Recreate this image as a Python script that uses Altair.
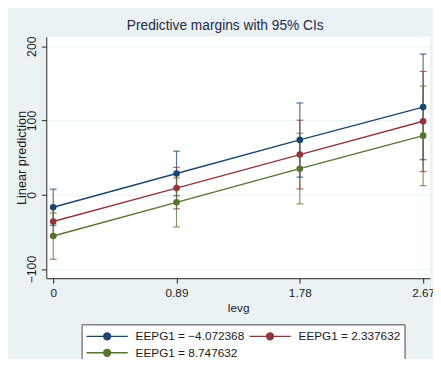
import altair as alt
import pandas as pd

levg = [0, 0.89, 1.78, 2.67]
groups = ["EEPG1 = \u22124.072368", "EEPG1 = 2.337632", "EEPG1 = 8.747632"]
colors = ["#1a476f", "#90353b", "#55752f"]

margin_1 = [-16.8, 28.7, 73.9, 118.0]
lower_1 = [-41.1, -1.3, 23.8, 47.2]
upper_1 = [7.5, 58.7, 123.6, 189.4]

margin_2 = [-36.0, 9.0, 54.1, 99.0]
lower_2 = [-56.0, -19.0, 7.9, 31.1]
upper_2 = [-16.0, 37.0, 100.4, 166.0]

margin_3 = [-55.5, -10.2, 35.1, 79.6]
lower_3 = [-86.8, -43.2, -12.3, 12.3]
upper_3 = [-24.5, 22.8, 82.9, 146.3]

y_ticks = [-100, 0, 100, 200]

rows = []
for gi, (g, m, lo, hi) in enumerate(zip(groups,
                                        [margin_1, margin_2, margin_3],
                                        [lower_1, lower_2, lower_3],
                                        [upper_1, upper_2, upper_3])):
    for x, mv, l, h in zip(levg, m, lo, hi):
        rows.append({"group": g, "order": gi, "levg": x, "margin": mv, "lo": l, "hi": h})
df = pd.DataFrame(rows)

FONT = "Liberation Sans"
TXT = "#1b1b1b"

xscale = alt.Scale(domain=[-0.05, 2.72], nice=False, zero=False)
yscale = alt.Scale(domain=[-112.3, 212.7], nice=False, zero=False)
cscale = alt.Scale(domain=groups, range=colors)

xaxis = alt.Axis(values=levg, labelExpr="datum.value == 0 ? '0' : format(datum.value, '.2f')",
                 title="levg", grid=False,
                 labelFontSize=12, titleFontSize=12, labelPadding=5, titlePadding=4,
                 tickSize=5, labelFlush=False)
yaxis = alt.Axis(values=y_ticks, title="Linear prediction", grid=True, gridColor="#eaf2f3",
                 gridWidth=1, labelAngle=270, labelAlign="center", labelBaseline="bottom",
                 labelFontSize=12.5, titleFontSize=13, labelPadding=3, titlePadding=-3,
                 tickSize=5)

legend = alt.Legend(
    title=None, orient="none", legendX=36, legendY=293, columns=2, direction="horizontal",
    symbolType="M-1,0H5M1.5,0a0.5,0.5 0 1,0 1,0a0.5,0.5 0 1,0 -1,0",
    symbolSize=196, symbolStrokeWidth=1.5, symbolOpacity=1, labelOffset=35, labelFontSize=12,
    labelFont=FONT, labelColor=TXT, columnPadding=2, rowPadding=2, padding=4,
    strokeColor="#444", fillColor="white", labelLimit=300,
)

color = alt.Color("group:N", scale=cscale, legend=legend)

base = alt.Chart(df)

ci = base.mark_rule(strokeWidth=1.2, opacity=0.75).encode(
    x=alt.X("levg:Q", scale=xscale, axis=xaxis),
    y=alt.Y("lo:Q", scale=yscale, axis=yaxis),
    y2="hi:Q",
    color=color,
    order="order:Q",
)
cap_lo = base.mark_tick(orient="horizontal", size=7, thickness=1.2, opacity=0.75).encode(
    x=alt.X("levg:Q", scale=xscale), y=alt.Y("lo:Q", scale=yscale),
    color=color,
)
cap_hi = base.mark_tick(orient="horizontal", size=7, thickness=1.2, opacity=0.75).encode(
    x=alt.X("levg:Q", scale=xscale), y=alt.Y("hi:Q", scale=yscale),
    color=color,
)
lines = base.mark_line(strokeWidth=1.4).encode(
    x=alt.X("levg:Q", scale=xscale), y=alt.Y("margin:Q", scale=yscale),
    color=color,
    detail="group:N",
)
points = base.mark_point(filled=True, size=45, opacity=1).encode(
    x=alt.X("levg:Q", scale=xscale), y=alt.Y("margin:Q", scale=yscale),
    color=color,
)

chart = alt.layer(ci, cap_lo, cap_hi, lines, points).properties(
    width=391, height=246,
    autosize="none",
    padding={"left": 39, "top": 26, "right": 3, "bottom": 79},
    background="#eaf2f3",
    title=alt.TitleParams("Predictive margins with 95% CIs", fontSize=14, font=FONT,
                          fontWeight="normal", color="#1f2a44", anchor="middle",
                          frame="bounds", offset=3),
).configure_view(fill="white", stroke=None).configure_axis(
    labelFont=FONT, titleFont=FONT, labelColor=TXT, titleColor=TXT,
    titleFontWeight="normal", domainColor="#222", tickColor="#222", domainWidth=1,
)

chart.save("out.html", embed_options={"renderer": "svg", "actions": False})
